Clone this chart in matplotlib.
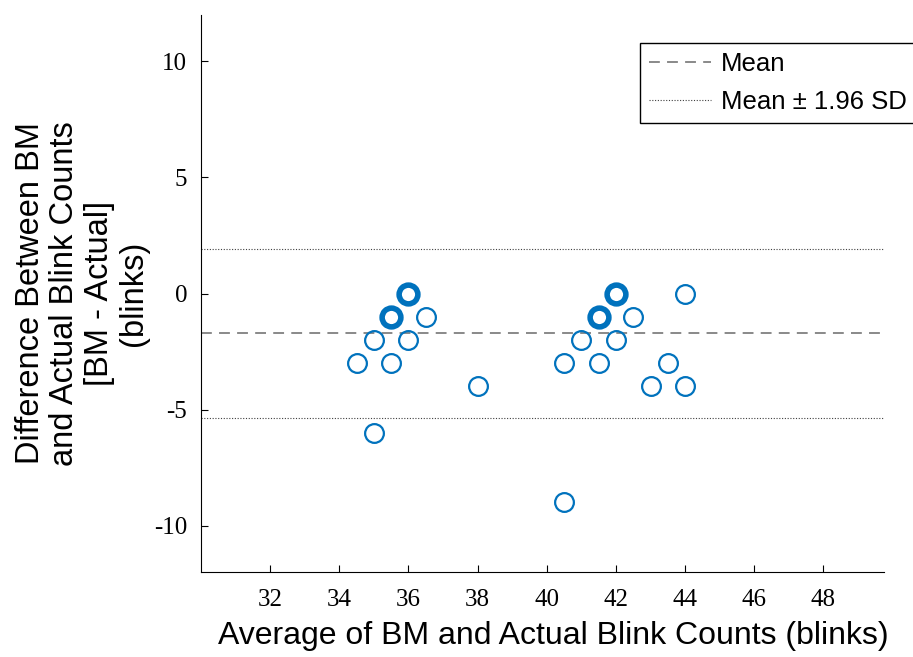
import matplotlib
matplotlib.use("Agg")
import matplotlib.pyplot as plt
from matplotlib.lines import Line2D

avg_x = [34.5, 35.0, 35.5, 35.5, 36.0, 36.0, 36.5, 35.0, 38.0,
         40.5, 40.5, 41.0, 41.5, 41.5, 42.0, 42.0, 42.5, 43.0, 43.5, 44.0, 44.0]
diff_y = [-3, -2, -1, -3, 0, -2, -1, -6, -4,
          -3, -9, -2, -3, -1, 0, -2, -1, -4, -3, 0, -4]
counts = [1, 1, 3, 1, 3, 1, 1, 1, 1,
          1, 1, 1, 1, 3, 3, 1, 1, 1, 1, 1, 1]
mean_diff = -1.72
loa_upper = 1.90
loa_lower = -5.35
x_ticks = [32, 34, 36, 38, 40, 42, 44, 46, 48]
y_ticks = [-10, -5, 0, 5, 10]
y_tick_labels = ["-10", "-5", "0", "5", "10"]

fig = plt.figure(figsize=(9.13, 6.57), dpi=100)
ax = fig.add_axes([201/913, 1-572/657, (884-201)/913, (572-15)/657])

blue = "#0072BD"
for x, y, c in zip(avg_x, diff_y, counts):
    ax.plot([x], [y], marker="o", markersize=13.5, markerfacecolor="none",
            markeredgecolor=blue, markeredgewidth=1.6 if c == 1 else 4.0,
            linestyle="none", zorder=3)

ax.axhline(mean_diff, color="#808080", linestyle=(0, (6, 4)), linewidth=1.3, zorder=2)
ax.axhline(loa_upper, color="#404040", linestyle=(0, (1, 1.5)), linewidth=0.8, zorder=2)
ax.axhline(loa_lower, color="#404040", linestyle=(0, (1, 1.5)), linewidth=0.8, zorder=2)

ax.set_xlim(30, 49.75)
ax.set_ylim(-12, 12)
ax.set_xticks(x_ticks)
ax.set_yticks(y_ticks)
ax.set_yticklabels(y_tick_labels)
ax.spines["top"].set_visible(False)
ax.spines["right"].set_visible(False)
ax.tick_params(direction="in", length=5, width=0.8, labelsize=18)
ax.tick_params(axis="x", pad=12)
ax.tick_params(axis="y", pad=10)
for lab in ax.get_xticklabels() + ax.get_yticklabels():
    lab.set_family("Liberation Serif")

ax.set_xlabel("Average of BM and Actual Blink Counts (blinks)", fontsize=23,
              family="Liberation Sans")
ax.xaxis.set_label_coords((553-201)/683, -(636-572)/557)
ax.xaxis.label.set_va("center")
ax.set_ylabel("Difference Between BM\nand Actual Blink Counts\n[BM - Actual]\n(blinks)",
              fontsize=23.5, family="Liberation Sans", linespacing=1.15)
ax.yaxis.set_label_coords(-(201-82)/683, 0.5)
ax.yaxis.label.set_va("center")

handles = [Line2D([], [], color="#808080", linestyle=(0, (6, 4)), linewidth=1.3),
           Line2D([], [], color="#404040", linestyle=(0, (1, 1.5)), linewidth=0.8)]
leg = ax.legend(handles, ["Mean", "Mean ± 1.96 SD"], loc="upper left",
                bbox_to_anchor=((640-201)/683, 1-(43-15)/557),
                prop={"family": "Liberation Sans", "size": 18.5},
                frameon=True, fancybox=False, edgecolor="black", framealpha=1,
                handlelength=2.4, borderpad=0.35, labelspacing=0.55, handletextpad=0.4,
                borderaxespad=0)
leg.get_frame().set_linewidth(1.0)
leg.set_clip_on(False)

fig.savefig("out.png", dpi=100)
